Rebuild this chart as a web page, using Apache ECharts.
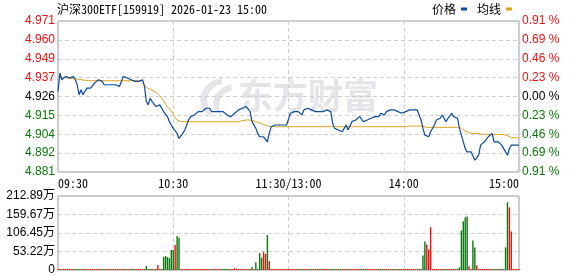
<!DOCTYPE html>
<html><head><meta charset="utf-8">
<script src="https://cdn.jsdelivr.net/npm/echarts@6/dist/echarts.min.js"></script>
<style>html,body{margin:0;padding:0;background:#fff}#c{width:578px;height:276px}</style>
</head><body><div id="c"></div>
<script>
const chartTitle = '沪深300ETF[159919] 2026-01-23 15:00';
const seriesNames = ['价格', '均线'];
const watermarkText = '东方财富';
// tick labels, bottom to top
const priceTickLabels = ['4.881','4.892','4.904','4.915','4.926','4.937','4.949','4.960','4.971'];
const pctTickLabels = ['0.91 %','0.69 %','0.46 %','0.23 %','0.00 %','0.23 %','0.46 %','0.69 %','0.91 %'];
const volTickLabels = ['0','53.22万','106.45万','159.67万','212.89万'];
const xTickIndex = [0, 60, 120, 180, 240];
const xTickLabels = ['09:30','10:30','11:30/13:00','14:00','15:00'];

const price = [
4.929,4.940,4.936,4.936,4.938,4.938,4.937,4.937,4.938,4.936,
4.933,4.927,4.930,4.927,4.929,4.931,4.931,4.931,4.932,4.934,
4.935,4.936,4.936,4.935,4.933,4.933,4.933,4.934,4.933,4.933,
4.933,4.932,4.932,4.935,4.938,4.937,4.937,4.937,4.936,4.935,
4.935,4.935,4.935,4.935,4.936,4.932,4.923,4.921,4.925,4.923,
4.924,4.920,4.921,4.921,4.919,4.917,4.917,4.914,4.911,4.909,
4.907,4.906,4.904,4.901,4.902,4.904,4.906,4.909,4.912,4.914,
4.915,4.915,4.916,4.917,4.917,4.917,4.917,4.919,4.919,4.919,
4.917,4.917,4.917,4.917,4.917,4.918,4.917,4.916,4.915,4.914,
4.914,4.914,4.916,4.917,4.918,4.918,4.919,4.919,4.920,4.921,
4.917,4.911,4.912,4.907,4.904,4.902,4.901,4.902,4.901,4.899,
4.904,4.908,4.908,4.909,4.909,4.909,4.909,4.909,4.909,4.909,
4.910,4.916,4.917,4.917,4.917,4.917,4.916,4.915,4.918,4.919,
4.919,4.919,4.918,4.917,4.917,4.916,4.917,4.916,4.917,4.918,
4.918,4.919,4.917,4.910,4.907,4.907,4.906,4.905,4.905,4.907,
4.909,4.906,4.907,4.911,4.912,4.912,4.913,4.914,4.913,4.911,
4.911,4.912,4.913,4.913,4.914,4.914,4.915,4.914,4.916,4.915,
4.915,4.917,4.916,4.918,4.919,4.918,4.917,4.917,4.916,4.916,
4.917,4.917,4.917,4.918,4.919,4.918,4.919,4.918,4.919,4.912,
4.907,4.903,4.902,4.902,4.905,4.906,4.909,4.912,4.913,4.913,
4.915,4.913,4.911,4.913,4.914,4.916,4.914,4.914,4.913,4.907,
4.903,4.899,4.895,4.893,4.892,4.893,4.892,4.888,4.888,4.891,
4.897,4.898,4.899,4.900,4.902,4.902,4.904,4.899,4.898,4.899,
4.900,4.897,4.896,4.893,4.891,4.895,4.897,4.897,4.897,4.897,
4.897
];

const avgPrice = [
4.9378,4.9378,4.9376,4.9374,4.9372,4.9370,4.9368,4.9368,4.9367,4.9366,
4.9364,4.9362,4.9360,4.9358,4.9357,4.9356,4.9355,4.9355,4.9354,4.9354,
4.9354,4.9354,4.9354,4.9354,4.9354,4.9354,4.9354,4.9354,4.9354,4.9354,
4.9354,4.9354,4.9354,4.9354,4.9354,4.9354,4.9354,4.9354,4.9354,4.9354,
4.9354,4.9354,4.9354,4.9354,4.9354,4.9330,4.9314,4.9308,4.9303,4.9299,
4.9293,4.9289,4.9277,4.9265,4.9249,4.9233,4.9213,4.9199,4.9189,4.9174,
4.9154,4.9134,4.9120,4.9112,4.9110,4.9110,4.9110,4.9110,4.9110,4.9110,
4.9110,4.9110,4.9110,4.9110,4.9110,4.9110,4.9110,4.9110,4.9110,4.9110,
4.9110,4.9110,4.9110,4.9110,4.9110,4.9110,4.9110,4.9110,4.9110,4.9110,
4.9110,4.9110,4.9110,4.9110,4.9110,4.9110,4.9116,4.9120,4.9120,4.9120,
4.9120,4.9120,4.9114,4.9110,4.9106,4.9102,4.9098,4.9094,4.9090,4.9086,
4.9082,4.9080,4.9080,4.9080,4.9080,4.9080,4.9080,4.9080,4.9080,4.9080,
4.9080,4.9080,4.9080,4.9080,4.9080,4.9080,4.9080,4.9080,4.9080,4.9080,
4.9080,4.9080,4.9080,4.9080,4.9080,4.9080,4.9080,4.9080,4.9080,4.9080,
4.9080,4.9080,4.9080,4.9080,4.9080,4.9080,4.9080,4.9080,4.9080,4.9080,
4.9080,4.9080,4.9080,4.9080,4.9080,4.9080,4.9080,4.9080,4.9080,4.9080,
4.9080,4.9080,4.9080,4.9080,4.9080,4.9080,4.9080,4.9080,4.9080,4.9080,
4.9080,4.9080,4.9080,4.9080,4.9080,4.9080,4.9080,4.9080,4.9080,4.9080,
4.9080,4.9081,4.9082,4.9083,4.9084,4.9084,4.9084,4.9084,4.9084,4.9084,
4.9082,4.9076,4.9076,4.9076,4.9076,4.9076,4.9076,4.9076,4.9076,4.9076,
4.9076,4.9076,4.9076,4.9076,4.9076,4.9076,4.9076,4.9076,4.9076,4.9076,
4.9072,4.9064,4.9054,4.9048,4.9044,4.9040,4.9040,4.9040,4.9040,4.9036,
4.9036,4.9034,4.9034,4.9034,4.9034,4.9034,4.9034,4.9034,4.9034,4.9034,
4.9034,4.9034,4.9034,4.9032,4.9026,4.9020,4.9016,4.9014,4.9014,4.9014,
4.9014
];

// volume in 万
const volume = [
3,3,3,3,3,3,3,3,3,3,
3,3,3,3,3,3,3,3,3,3,
3,3,3,3,3,3,3,3,3,3,
3,3,3,3,3,3,3,3,3,3,
3,3,3,3,3,3,11.5,3,3,3,
3,3,14.4,3,3,38,40,37,34.5,57.5,
57.5,72,98,93,3,3,3,3,3,3,
3,3,3,3,3,3,3,3,3,3,
3,3,3,3,3,3,3,3,3,3,
3,3,6,3,3,3,3,3,3,3,
3,8.6,3,22,3,49,35.5,52,46,100.7,
26,3,3,3,3,3,3,3,3,3,
3,3,3,3,3,3,3,3,3,3,
3,3,3,3,3,3,3,3,3,3,
3,3,3,3,3,3,3,3,3,3,
3,3,3,3,3,3,3,3,3,3,
3,3,3,3,3,3,3,3,3,3,
3,3,3,3,3,3,3,3,3,3,
3,3,3,3,3,3,3,3,3,3,
42,82,73.5,59,123,3,3,3,3,3,
3,3,3,3,3,3,3,3,3,7.6,
114,140,151.5,154,10.5,3,85,65,13.5,3,
3,3,3,3,3,3,3,3,3,3,
3,3,3,65,195,180,111,3,3,3,
3
];
// bars traded on an up tick (drawn red) among the taller bars
const volUpIdx = [52, 61, 92, 107, 108, 110, 192, 193, 194, 214, 218, 235, 236];

// minute categories
const minutes = [];
for (let h = 9, m = 30; h < 11 || (h === 11 && m <= 30); ) {
  minutes.push(String(h).padStart(2,'0') + ':' + String(m).padStart(2,'0'));
  m++; if (m === 60) { m = 0; h++; }
}
for (let h = 13, m = 1; h < 15 || (h === 15 && m === 0); ) {
  minutes.push(String(h).padStart(2,'0') + ':' + String(m).padStart(2,'0'));
  m++; if (m === 60) { m = 0; h++; }
}

const RED = '#f01010', GREEN = '#0a780a', BLUE = '#0b4aa2', ORANGE = '#e0a21c';
const WM = '#e4e4e9';
const monoFont = "'Noto Sans Mono CJK SC', 'Noto Sans CJK SC', 'DejaVu Sans Mono', monospace";
const numFont = "'Liberation Sans', 'Noto Sans CJK SC', Arial, sans-serif";
const upSet = new Set(volUpIdx);
const dash = { color: '#cfcfcf', type: [4, 3], width: 1 };
const isTick = i => xTickIndex.indexOf(i) >= 0;

const chart = echarts.init(document.getElementById('c'), null, { renderer: 'canvas' });
chart.setOption({
  animation: false,
  backgroundColor: '#fff',
  title: {
    text: chartTitle, left: 57, top: 3, padding: 0,
    textStyle: { fontSize: 12, fontWeight: 'normal', color: '#000', fontFamily: monoFont }
  },
  legend: {
    data: seriesNames, right: 66, top: 3, padding: 0,
    align: 'right', icon: 'rect', itemWidth: 6, itemHeight: 3, itemGap: 10,
    textStyle: { fontSize: 12, color: '#000', fontFamily: "'Noto Sans CJK SC', sans-serif" }
  },
  graphic: [
    { type: 'text', x: 238, y: 78, z: 0, silent: true,
      style: { text: watermarkText, fill: WM, font: "bold 35px 'Noto Sans CJK SC', sans-serif" } },
    { type: 'polygon', z: 0, silent: true,
      shape: { points: [[222,78],[212,81],[204,88],[200,97],[201,106],[206,113],[212,116],[208,106],[207,98],[210,91],[216,86],[222,84]] },
      style: { fill: WM } },
    { type: 'polygon', z: 0, silent: true,
      shape: { points: [[231,84],[222,88],[215,95],[213,103],[216,110],[221,114],[219,106],[220,99],[224,94],[232,90]] },
      style: { fill: WM } }
  ],
  grid: [
    { left: 58, width: 461, top: 21, height: 151, show: true, borderColor: '#999', borderWidth: 1 },
    { left: 58, width: 461, top: 196, height: 74, show: true, borderColor: '#999', borderWidth: 1 }
  ],
  xAxis: [
    { type: 'category', gridIndex: 0, data: minutes, boundaryGap: false,
      axisLine: { show: false }, axisTick: { show: false },
      axisLabel: {
        interval: (i) => isTick(i), margin: 5, fontSize: 12, color: '#000', fontFamily: monoFont,
        formatter: (v, i) => xTickLabels[xTickIndex.indexOf(i)] || '',
        alignMinLabel: 'left', alignMaxLabel: 'right', showMinLabel: true, showMaxLabel: true
      },
      splitLine: { show: true, interval: (i) => isTick(i), lineStyle: dash } },
    { type: 'category', gridIndex: 1, data: minutes, boundaryGap: false,
      axisLine: { show: false }, axisTick: { show: false }, axisLabel: { show: false },
      splitLine: { show: true, interval: (i) => isTick(i), lineStyle: dash } }
  ],
  yAxis: [
    { type: 'value', gridIndex: 0, min: 4.881, max: 4.971, interval: 0.01125, position: 'left',
      axisLine: { show: false }, axisTick: { show: false },
      axisLabel: {
        margin: 3, fontSize: 12, fontFamily: numFont,
        formatter: (v, i) => '{' + (i < 4 ? 'd' : (i === 4 ? 'z' : 'u')) + '|' + priceTickLabels[i] + '}',
        rich: { u: { color: RED, fontSize: 12, fontFamily: numFont },
                z: { color: '#000', fontSize: 12, fontFamily: numFont },
                d: { color: GREEN, fontSize: 12, fontFamily: numFont } }
      },
      splitLine: { show: true, lineStyle: dash } },
    { type: 'value', gridIndex: 0, min: 4.881, max: 4.971, interval: 0.01125, position: 'right',
      axisLine: { show: false }, axisTick: { show: false },
      axisLabel: {
        margin: 3, fontSize: 12, fontFamily: numFont,
        formatter: (v, i) => '{' + (i < 4 ? 'd' : (i === 4 ? 'z' : 'u')) + '|' + pctTickLabels[i] + '}',
        rich: { u: { color: RED, fontSize: 12, fontFamily: numFont },
                z: { color: '#000', fontSize: 12, fontFamily: numFont },
                d: { color: GREEN, fontSize: 12, fontFamily: numFont } }
      },
      splitLine: { show: false } },
    { type: 'value', gridIndex: 1, min: 0, max: 212.89, interval: 53.2225,
      axisLine: { show: false }, axisTick: { show: false },
      axisLabel: { margin: 3, fontSize: 12, color: '#000', fontFamily: numFont,
        formatter: (v, i) => volTickLabels[i] },
      splitLine: { show: true, lineStyle: dash } }
  ],
  series: [
    { name: seriesNames[0], type: 'line', xAxisIndex: 0, yAxisIndex: 0, data: price,
      color: BLUE, symbol: 'none', lineStyle: { color: BLUE, width: 1.2 }, z: 4 },
    { name: seriesNames[1], type: 'line', xAxisIndex: 0, yAxisIndex: 0, data: avgPrice,
      color: ORANGE, symbol: 'none', lineStyle: { color: ORANGE, width: 1 }, z: 3 },
    { name: 'volume', type: 'bar', xAxisIndex: 1, yAxisIndex: 2, data: volume, barWidth: 1.4,
      itemStyle: { color: (p) => {
        const i = p.dataIndex;
        if (upSet.has(i)) return RED;
        if (volume[i] > 5) return GREEN;
        return (i === 0 || price[i] >= price[i - 1]) ? RED : GREEN;
      } } }
  ]
});
</script></body></html>
